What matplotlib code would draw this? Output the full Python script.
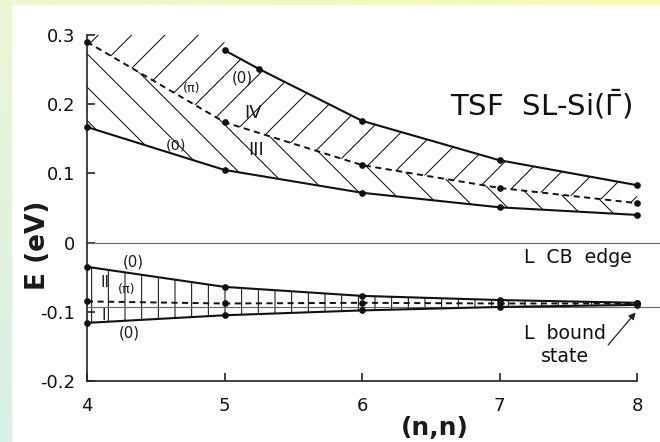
#!/usr/bin/env python
# -*- coding: utf-8 -*-
# Subband energies of the (n,n) Si superlattice at Gamma-bar,
# with the hatched band regions I-IV and the L reference levels.

import numpy as np
import matplotlib
matplotlib.use('Agg')
import matplotlib.pyplot as plt
from matplotlib.patches import Rectangle

plt.rcParams['font.family'] = ['DejaVu Sans']
plt.rcParams['axes.unicode_minus'] = False
plt.rcParams['lines.scale_dashes'] = False
plt.rcParams['hatch.linewidth'] = 0.35
plt.rcParams['hatch.color'] = '#555555'

# period (n,n)
n = [4, 5, 6, 7, 8]

# upper bands (eV)
e3_low = [0.167, 0.105, 0.072, 0.051, 0.040]    # (0), bottom of III
e_pi_up = [0.290, 0.174, 0.112, 0.079, 0.057]   # (pi), III / IV border
n4 = [5, 5.25, 6, 7, 8]
e4_up = [0.278, 0.251, 0.176, 0.119, 0.083]     # (0), top of IV
hatch_top = 0.30

# lower bands (eV)
e2_up = [-0.035, -0.064, -0.077, -0.083, -0.087]   # (0), top of II
e_pi_lo = [-0.085, -0.088, -0.087, -0.088, -0.088]  # (pi)
e1_low = [-0.116, -0.105, -0.098, -0.093, -0.090]  # (0), bottom of I

cb_edge = 0.0
bound_state = -0.093

yticks = [-0.2, -0.1, 0, 0.1, 0.2, 0.3]
ytick_labels = ['-0.2', '-0.1', '0', '0.1', '0.2', '0.3']

fig = plt.figure(figsize=(3.3, 2.21), dpi=200)

# soft coloured frame behind a white page
bg = fig.add_axes([0, 0, 1, 1], zorder=-10)
u = np.linspace(0, 1, 200)[None, :, None]
v = np.linspace(0, 1, 140)[:, None, None]
c_tl = np.array([236, 247, 212]) / 255.
c_tr = np.array([249, 251, 174]) / 255.
c_bl = np.array([216, 240, 231]) / 255.
grad = np.clip(c_tl + u * (c_tr - c_tl) + v * (c_bl - c_tl), 0, 1)
bg.imshow(grad, aspect='auto', extent=[0, 1, 0, 1])
bg.add_patch(Rectangle((13 / 660., 0), 1, 1 - 6 / 442., color='white'))
bg.set_xlim(0, 1)
bg.set_ylim(0, 1)
bg.axis('off')

ax = fig.add_axes([87 / 660., 61 / 442., 550 / 660., 346 / 442.])
ax.set_facecolor('white')
ax.set_xlim(4, 8)
ax.set_ylim(-0.2, 0.3)

# hatched regions
hkw = dict(fill=False, linewidth=0)
# IV, left part is open towards the top
x_l = [4, 5, 5, 4]
y_l = [hatch_top, hatch_top, e_pi_up[1], e_pi_up[0]]
ax.fill(x_l, y_l, hatch='//', **hkw)
pi_at4 = np.interp(n4, n, e_pi_up)
ax.fill(np.r_[n4, n4[::-1]], np.r_[e4_up, pi_at4[::-1]], hatch='//', **hkw)
# III
ax.fill(np.r_[n, n[::-1]], np.r_[e3_low, e_pi_up[::-1]], hatch='\\\\', **hkw)
# II and I
ax.fill(np.r_[n, n[::-1]], np.r_[e2_up, e1_low[::-1]], hatch='||', **hkw)

# reference levels
ax.axhline(cb_edge, xmax=1.042, color='#666', lw=0.4, clip_on=False)
ax.axhline(bound_state, xmax=1.042, color='#666', lw=0.4, clip_on=False)

lkw = dict(color='#111', marker='o', ms=1.4, clip_on=False, zorder=3)
ax.plot(n, e3_low, lw=0.75, **lkw)
ax.plot(n, e_pi_up, lw=0.7, dashes=(2.2, 1.6), **lkw)
ax.plot(n4, e4_up, lw=0.75, **lkw)
ax.plot(n, e2_up, lw=0.75, **lkw)
ax.plot(n, e_pi_lo, lw=0.7, dashes=(2.2, 1.6), **lkw)
ax.plot(n, e1_low, lw=0.75, **lkw)

# band labels
tc = '#1a1a1a'
ax.text(4.65, 0.141, '(0)', fontsize=5.2, ha='center', va='center', color=tc)
ax.text(4.76, 0.222, '(π)', fontsize=4.6, ha='center', va='center', color=tc)
ax.text(5.13, 0.238, '(0)', fontsize=5.4, ha='center', va='center', color=tc)
ax.text(5.21, 0.187, 'IV', fontsize=6.5, ha='center', va='center', color=tc)
ax.text(5.23, 0.134, 'III', fontsize=6.5, ha='center', va='center', color=tc)

ax.text(4.335, -0.028, '(0)', fontsize=5.4, ha='center', va='center', color=tc)
ax.text(4.13, -0.058, 'II', fontsize=5.5, ha='center', va='center', color=tc)
ax.text(4.29, -0.068, '(π)', fontsize=4.6, ha='center', va='center', color=tc)
ax.text(4.12, -0.105, 'I', fontsize=5.5, ha='center', va='center', color=tc)
ax.text(4.31, -0.131, '(0)', fontsize=5.4, ha='center', va='center', color=tc)

ax.text(7.96, 0.199, r'TSF  SL-Si($\bar{\Gamma}$)', fontsize=10.5,
        ha='right', va='center', color='#111')
ax.text(7.96, -0.022, 'L  CB  edge', fontsize=6.8, ha='right', va='center',
        color='#111')
ax.text(7.48, -0.148, 'L  bound\nstate', fontsize=6.8, ha='center',
        va='center', color='#111', linespacing=1.25)
ax.annotate('', xy=(7.99, -0.101), xytext=(7.79, -0.148),
            arrowprops=dict(arrowstyle='-|>', lw=0.45, color='#222',
                            mutation_scale=5, shrinkA=0, shrinkB=0))

# axes
for side in ('top', 'right'):
    ax.spines[side].set_visible(False)
for side in ('left', 'bottom'):
    ax.spines[side].set_linewidth(0.6)
    ax.spines[side].set_color('#222')

ax.set_xticks(n)
ax.set_xticklabels([str(k) for k in n])
ax.set_yticks(yticks)
ax.set_yticklabels(ytick_labels)
ax.tick_params(axis='both', direction='in', length=2.9, width=0.6,
               labelsize=6.5, color='#222', labelcolor='#111')
ax.tick_params(axis='y', pad=4.3)
ax.tick_params(axis='x', pad=5.6)

ax.set_xlabel('(n,n)', fontsize=9, fontweight='bold', color='#1a1a1a')
ax.xaxis.set_label_coords(0.633, -0.101)
ax.set_ylabel('E (eV)', fontsize=9.5, fontweight='bold', color='#1a1a1a',
              va='center')
ax.yaxis.set_label_coords(-0.089, 0.393)

fig.savefig('out.png', dpi=200)
